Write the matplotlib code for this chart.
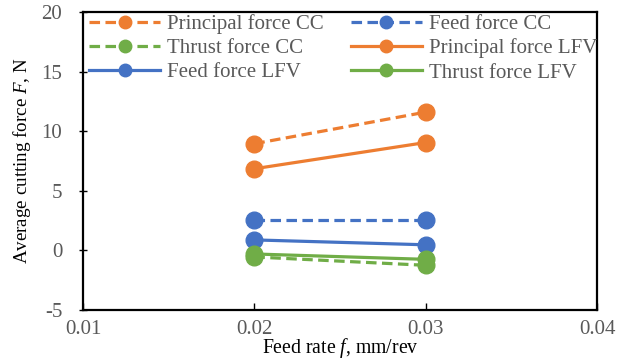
import matplotlib
matplotlib.use("Agg")
import matplotlib.pyplot as plt

feed = [0.02, 0.03]
principal_cc = [8.95, 11.6]
feed_cc = [2.55, 2.55]
thrust_cc = [-0.55, -1.25]
principal_lfv = [6.85, 9.05]
feed_lfv = [0.88, 0.47]
thrust_lfv = [-0.3, -0.75]

orange = "#ED7D31"
blue = "#4472C4"
green = "#70AD47"
gray = "#595959"

plt.rcParams['font.family'] = ['Liberation Serif', 'DejaVu Serif']
plt.rcParams['mathtext.fontset'] = 'custom'
plt.rcParams['mathtext.rm'] = 'Liberation Serif'
plt.rcParams['mathtext.it'] = 'Liberation Serif:italic'
plt.rcParams['axes.unicode_minus'] = False

fig = plt.figure(figsize=(6.24, 3.62), dpi=100)
ax = fig.add_axes([83/624, 1-310/362, (597-83)/624, (310-12)/362])

dash = (0, (3.3, 1.7))
kw = dict(marker='o', markersize=12, linewidth=2.3)
h_pcc, = ax.plot(feed, principal_cc, color=orange, linestyle=dash, **kw, label="Principal force CC")
h_fcc, = ax.plot(feed, feed_cc, color=blue, linestyle=dash, **kw, label="Feed force CC")
h_tcc, = ax.plot(feed, thrust_cc, color=green, linestyle=dash, **kw, label="Thrust force CC")
h_plfv, = ax.plot(feed, principal_lfv, color=orange, linestyle='-', **kw, label="Principal force LFV")
h_flfv, = ax.plot(feed, feed_lfv, color=blue, linestyle='-', **kw, label="Feed force LFV")
h_tlfv, = ax.plot(feed, thrust_lfv, color=green, linestyle='-', **kw, label="Thrust force LFV")

ax.set_xlim(0.01, 0.04)
ax.set_ylim(-5, 20)
ax.set_xticks([0.01, 0.02, 0.03, 0.04])
ax.set_xticklabels(["0.01", "0.02", "0.03", "0.04"])
ax.set_yticks([-5, 0, 5, 10, 15, 20])
ax.set_yticklabels(["-5", "0", "5", "10", "15", "20"])
ax.tick_params(axis='both', width=1, labelsize=15, labelcolor=gray, colors='black')
ax.tick_params(axis='x', direction='in', length=5, pad=7)
ax.tick_params(axis='y', direction='inout', length=6, pad=12)
for s in ax.spines.values():
    s.set_linewidth(1.6)
    s.set_color('black')

ax.set_xlabel("Feed rate $f$, mm/rev", fontsize=14.2, labelpad=-2)
ax.set_ylabel("Average cutting force $F$, N", fontsize=13.7, labelpad=6)

handles = [h_pcc, h_tcc, h_flfv, h_fcc, h_plfv, h_tlfv]
leg = ax.legend(handles=handles, labels=[h.get_label() for h in handles], ncol=2,
                loc='upper left', bbox_to_anchor=(4/514, 1.0), fontsize=15,
                frameon=False,
                borderpad=0.1, labelspacing=0.22, handlelength=3.4, handletextpad=0.35,
                columnspacing=1.3, borderaxespad=0.0)
for t in leg.get_texts():
    t.set_color(gray)
for h in leg.legend_handles:
    h.set_markersize(9)

fig.savefig("out.png", dpi=100)
